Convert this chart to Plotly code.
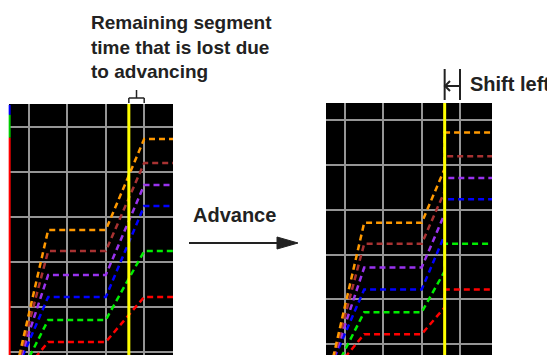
import plotly.graph_objects as go

# six ramp/soak programs, bottom to top
series_colors = ["#ff0000", "#00ee00", "#0000ff", "#9933ee", "#a83232", "#ff9900"]
ramp1_start = [1.00, 0.90, 0.73, 0.72, 0.71, 0.69]   # time where each ramp leaves the floor
floor_level = -0.3
soak1_level = [0.22, 0.71, 1.22, 1.71, 2.24, 2.71]
soak2_level = [1.22, 2.24, 3.24, 3.71, 4.20, 4.73]

# segment times (grid units)
t_soak1 = 1.5
t_ramp2 = 3.0
t_soak2 = 4.0
t_advance = 3.6
t_end = 5.0

# coloured ticks on the left edge of the first screen
edge_marks = [("#0000ff", 5.49, 5.27), ("#00cc00", 5.27, 4.76), ("#ff0000", 4.76, -0.1)]

W, H = 555, 355
OX, OY = 8, 8   # page body margin


def px(x):
    return (x - OX) / W


def py(y):
    return 1 - (y - OY) / H


dash = "6px,4px"
fig = go.Figure()

for i, c in enumerate(series_colors):
    # before advancing: full second ramp
    fig.add_trace(go.Scatter(
        x=[ramp1_start[i], t_soak1, t_ramp2, t_soak2, t_end],
        y=[floor_level, soak1_level[i], soak1_level[i], soak2_level[i], soak2_level[i]],
        mode="lines", line=dict(color=c, width=2.5, dash=dash),
        xaxis="x", yaxis="y", showlegend=False, hoverinfo="skip"))
    # after advancing: ramp cut at the cursor, next segment starts there
    frac = (t_advance - t_ramp2) / (t_soak2 - t_ramp2)
    cut = soak1_level[i] + (soak2_level[i] - soak1_level[i]) * frac
    fig.add_trace(go.Scatter(
        x=[ramp1_start[i], t_soak1, t_ramp2, t_advance, t_advance, t_end],
        y=[floor_level, soak1_level[i], soak1_level[i], cut, soak2_level[i], soak2_level[i]],
        mode="lines", line=dict(color=c, width=2.5, dash=dash),
        xaxis="x2", yaxis="y2", showlegend=False, hoverinfo="skip"))

grid = dict(showgrid=True, gridcolor="#959595", gridwidth=2, dtick=1, tick0=0,
            showticklabels=False, zeroline=False, ticks="", showline=False, fixedrange=True)

fig.update_layout(
    width=W, height=H,
    margin=dict(l=0, r=0, t=0, b=0),
    paper_bgcolor="white", plot_bgcolor="black",
    xaxis=dict(domain=[px(9), px(173)], range=[0.48, 4.75], anchor="y", **grid),
    yaxis=dict(domain=[py(355), py(104)], range=[-0.07, 5.51], anchor="x", **grid),
    xaxis2=dict(domain=[px(326), px(492)], range=[0.504, 4.835], anchor="y2", **grid),
    yaxis2=dict(domain=[py(355), py(103)], range=[-0.246, 5.39], anchor="x2", **grid),
)

shapes = []
# cursor lines
for xr in ["x", "x2"]:
    shapes.append(dict(type="line", xref=xr, yref=xr.replace("x", "y") + " domain",
                       x0=t_advance, x1=t_advance, y0=0, y1=1,
                       line=dict(color="#ffff00", width=3)))
# left edge ticks
for c, y0, y1 in edge_marks:
    shapes.append(dict(type="line", xref="x domain", yref="y", x0=0.004, x1=0.004,
                       y0=y0, y1=y1, line=dict(color=c, width=2)))

ink = "#222222"
# bracket over the lost time (left screen)
shapes += [
    dict(type="line", xref="x", yref="paper", x0=t_advance, x1=t_soak2,
         y0=py(98), y1=py(98), line=dict(color=ink, width=1.5)),
    dict(type="line", xref="x", yref="paper", x0=t_advance, x1=t_advance,
         y0=py(98), y1=py(103), line=dict(color=ink, width=1.5)),
    dict(type="line", xref="x", yref="paper", x0=t_soak2, x1=t_soak2,
         y0=py(98), y1=py(103), line=dict(color=ink, width=1.5)),
    dict(type="line", xref="x", yref="paper", x0=(t_advance + t_soak2) / 2,
         x1=(t_advance + t_soak2) / 2, y0=py(98), y1=py(90), line=dict(color=ink, width=1.5)),
]
# shift-left marker (right screen)
shapes += [
    dict(type="line", xref="x2", yref="paper", x0=t_advance, x1=t_advance,
         y0=py(69), y1=py(100), line=dict(color=ink, width=2)),
    dict(type="line", xref="x2", yref="paper", x0=t_soak2, x1=t_soak2,
         y0=py(69), y1=py(100), line=dict(color=ink, width=2)),
    dict(type="line", xref="x2", yref="paper", x0=t_advance, x1=t_soak2,
         y0=py(86), y1=py(86), line=dict(color=ink, width=2)),
    dict(type="path", xref="paper", yref="paper",
         path=f"M {px(450)},{py(81)} L {px(445)},{py(86)} L {px(450)},{py(91)}",
         line=dict(color=ink, width=2)),
]
# advance arrow
shapes += [
    dict(type="line", xref="paper", yref="paper", x0=px(189), x1=px(282),
         y0=py(243), y1=py(243), line=dict(color=ink, width=2)),
    dict(type="path", xref="paper", yref="paper",
         path=f"M {px(277)},{py(237)} L {px(298)},{py(243)} L {px(277)},{py(249)} Z",
         fillcolor=ink, line=dict(color=ink, width=1)),
]
fig.update_layout(shapes=shapes)

notes = [
    ("Remaining segment<br>time that is lost due<br>to advancing", 89, 47, 19),
    ("Advance", 191, 215, 20),
    ("Shift left", 468, 84, 20),
]
for text, x, y, size in notes:
    fig.add_annotation(text=f"<b>{text}</b>", xref="paper", yref="paper",
                       x=px(x), y=py(y), xanchor="left", yanchor="middle",
                       align="left", showarrow=False,
                       font=dict(family="Liberation Sans, Arial, sans-serif", color=ink, size=size))

fig.write_html("out.html")
